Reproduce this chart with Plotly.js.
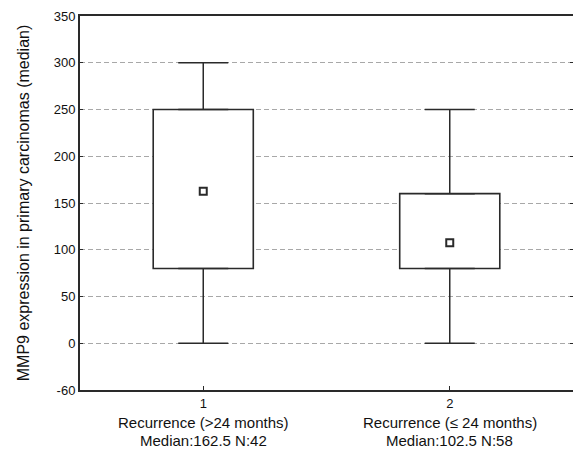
<!DOCTYPE html>
<html><head><meta charset="utf-8">
<script src="https://cdn.plot.ly/plotly-3.0.1.min.js"></script>
<style>html,body{margin:0;padding:0;overflow:hidden;background:#fff}</style>
</head><body><div id="chart"></div>
<script>
const categories = [1, 2];
const xTickLabels = ['1', '2'];
const groupLabels = ['Recurrence (>24 months)', 'Recurrence (\u2264 24 months)'];
const summaryLabels = ['Median:162.5 N:42', 'Median:102.5 N:58'];
const whiskerLow = [0, 0];
const q1 = [80, 80];
const medianMarker = [162.5, 107.5];
const q3 = [250, 160];
const whiskerHigh = [300, 250];
const yTickVals = [-50, 0, 50, 100, 150, 200, 250, 300, 350];
const yTickLabels = ['-60', '0', '50', '100', '150', '200', '250', '300', '350'];
const yTitle = 'MMP9 expression in primary carcinomas (median)';

const ink = '#2a2a2a';
const font = 'Liberation Sans, Arial, sans-serif';

const boxTrace = {
  type: 'bar', x: categories, base: q1,
  y: q3.map((v, i) => v - q1[i]),
  width: 0.406,
  marker: {color: '#ffffff', line: {color: ink, width: 1.6}},
  hoverinfo: 'skip', showlegend: false
};
const upperWhisker = {
  type: 'scatter', mode: 'markers', x: categories, y: q3,
  marker: {opacity: 0, size: 1},
  error_y: {type: 'data', symmetric: false,
    array: whiskerHigh.map((v, i) => v - q3[i]), arrayminus: categories.map(() => 0),
    color: ink, thickness: 1.5, width: 25},
  hoverinfo: 'skip', showlegend: false
};
const lowerWhisker = {
  type: 'scatter', mode: 'markers', x: categories, y: q1,
  marker: {opacity: 0, size: 1},
  error_y: {type: 'data', symmetric: false,
    array: categories.map(() => 0), arrayminus: q1.map((v, i) => v - whiskerLow[i]),
    color: ink, thickness: 1.5, width: 25},
  hoverinfo: 'skip', showlegend: false
};
const medianTrace = {
  type: 'scatter', mode: 'markers', x: categories, y: medianMarker,
  marker: {symbol: 'square-open', size: 7, color: ink, line: {color: ink, width: 2}},
  hoverinfo: 'skip', showlegend: false
};

const annotations = [];
categories.forEach((c, i) => {
  annotations.push({x: c, xref: 'x', y: -33 / 374, yref: 'paper', yanchor: 'middle',
    text: groupLabels[i], showarrow: false, font: {family: font, size: 15, color: '#111'}});
  annotations.push({x: c, xref: 'x', y: -51 / 374, yref: 'paper', yanchor: 'middle',
    text: summaryLabels[i], showarrow: false, font: {family: font, size: 15, color: '#111'}});
});

const layout = {
  width: 574, height: 463,
  margin: {l: 80, r: 1, t: 16, b: 73},
  paper_bgcolor: '#ffffff', plot_bgcolor: '#ffffff',
  showlegend: false,
  font: {family: font, color: '#111'},
  xaxis: {
    range: [0.5, 2.5], tickvals: categories, ticktext: xTickLabels,
    ticks: 'inside', ticklen: 4, tickcolor: ink, tickwidth: 1,
    showgrid: false, zeroline: false,
    showline: true, linecolor: ink, linewidth: 2, mirror: true,
    tickfont: {family: font, size: 13, color: '#111'}
  },
  yaxis: {
    range: [-50, 350], tickvals: yTickVals, ticktext: yTickLabels,
    ticks: 'inside', ticklen: 3, tickcolor: ink, tickwidth: 1,
    showgrid: true, gridcolor: '#a8a8a8', griddash: '5px,3px', gridwidth: 1,
    zeroline: false,
    showline: true, linecolor: ink, linewidth: 2, mirror: 'ticks',
    tickfont: {family: font, size: 13, color: '#111'},
    title: {text: yTitle, font: {family: font, size: 16, color: '#111'}, standoff: 20}
  },
  annotations: annotations
};

Plotly.newPlot('chart', [boxTrace, upperWhisker, lowerWhisker, medianTrace], layout,
  {displayModeBar: false, staticPlot: true});
</script>
</body></html>
